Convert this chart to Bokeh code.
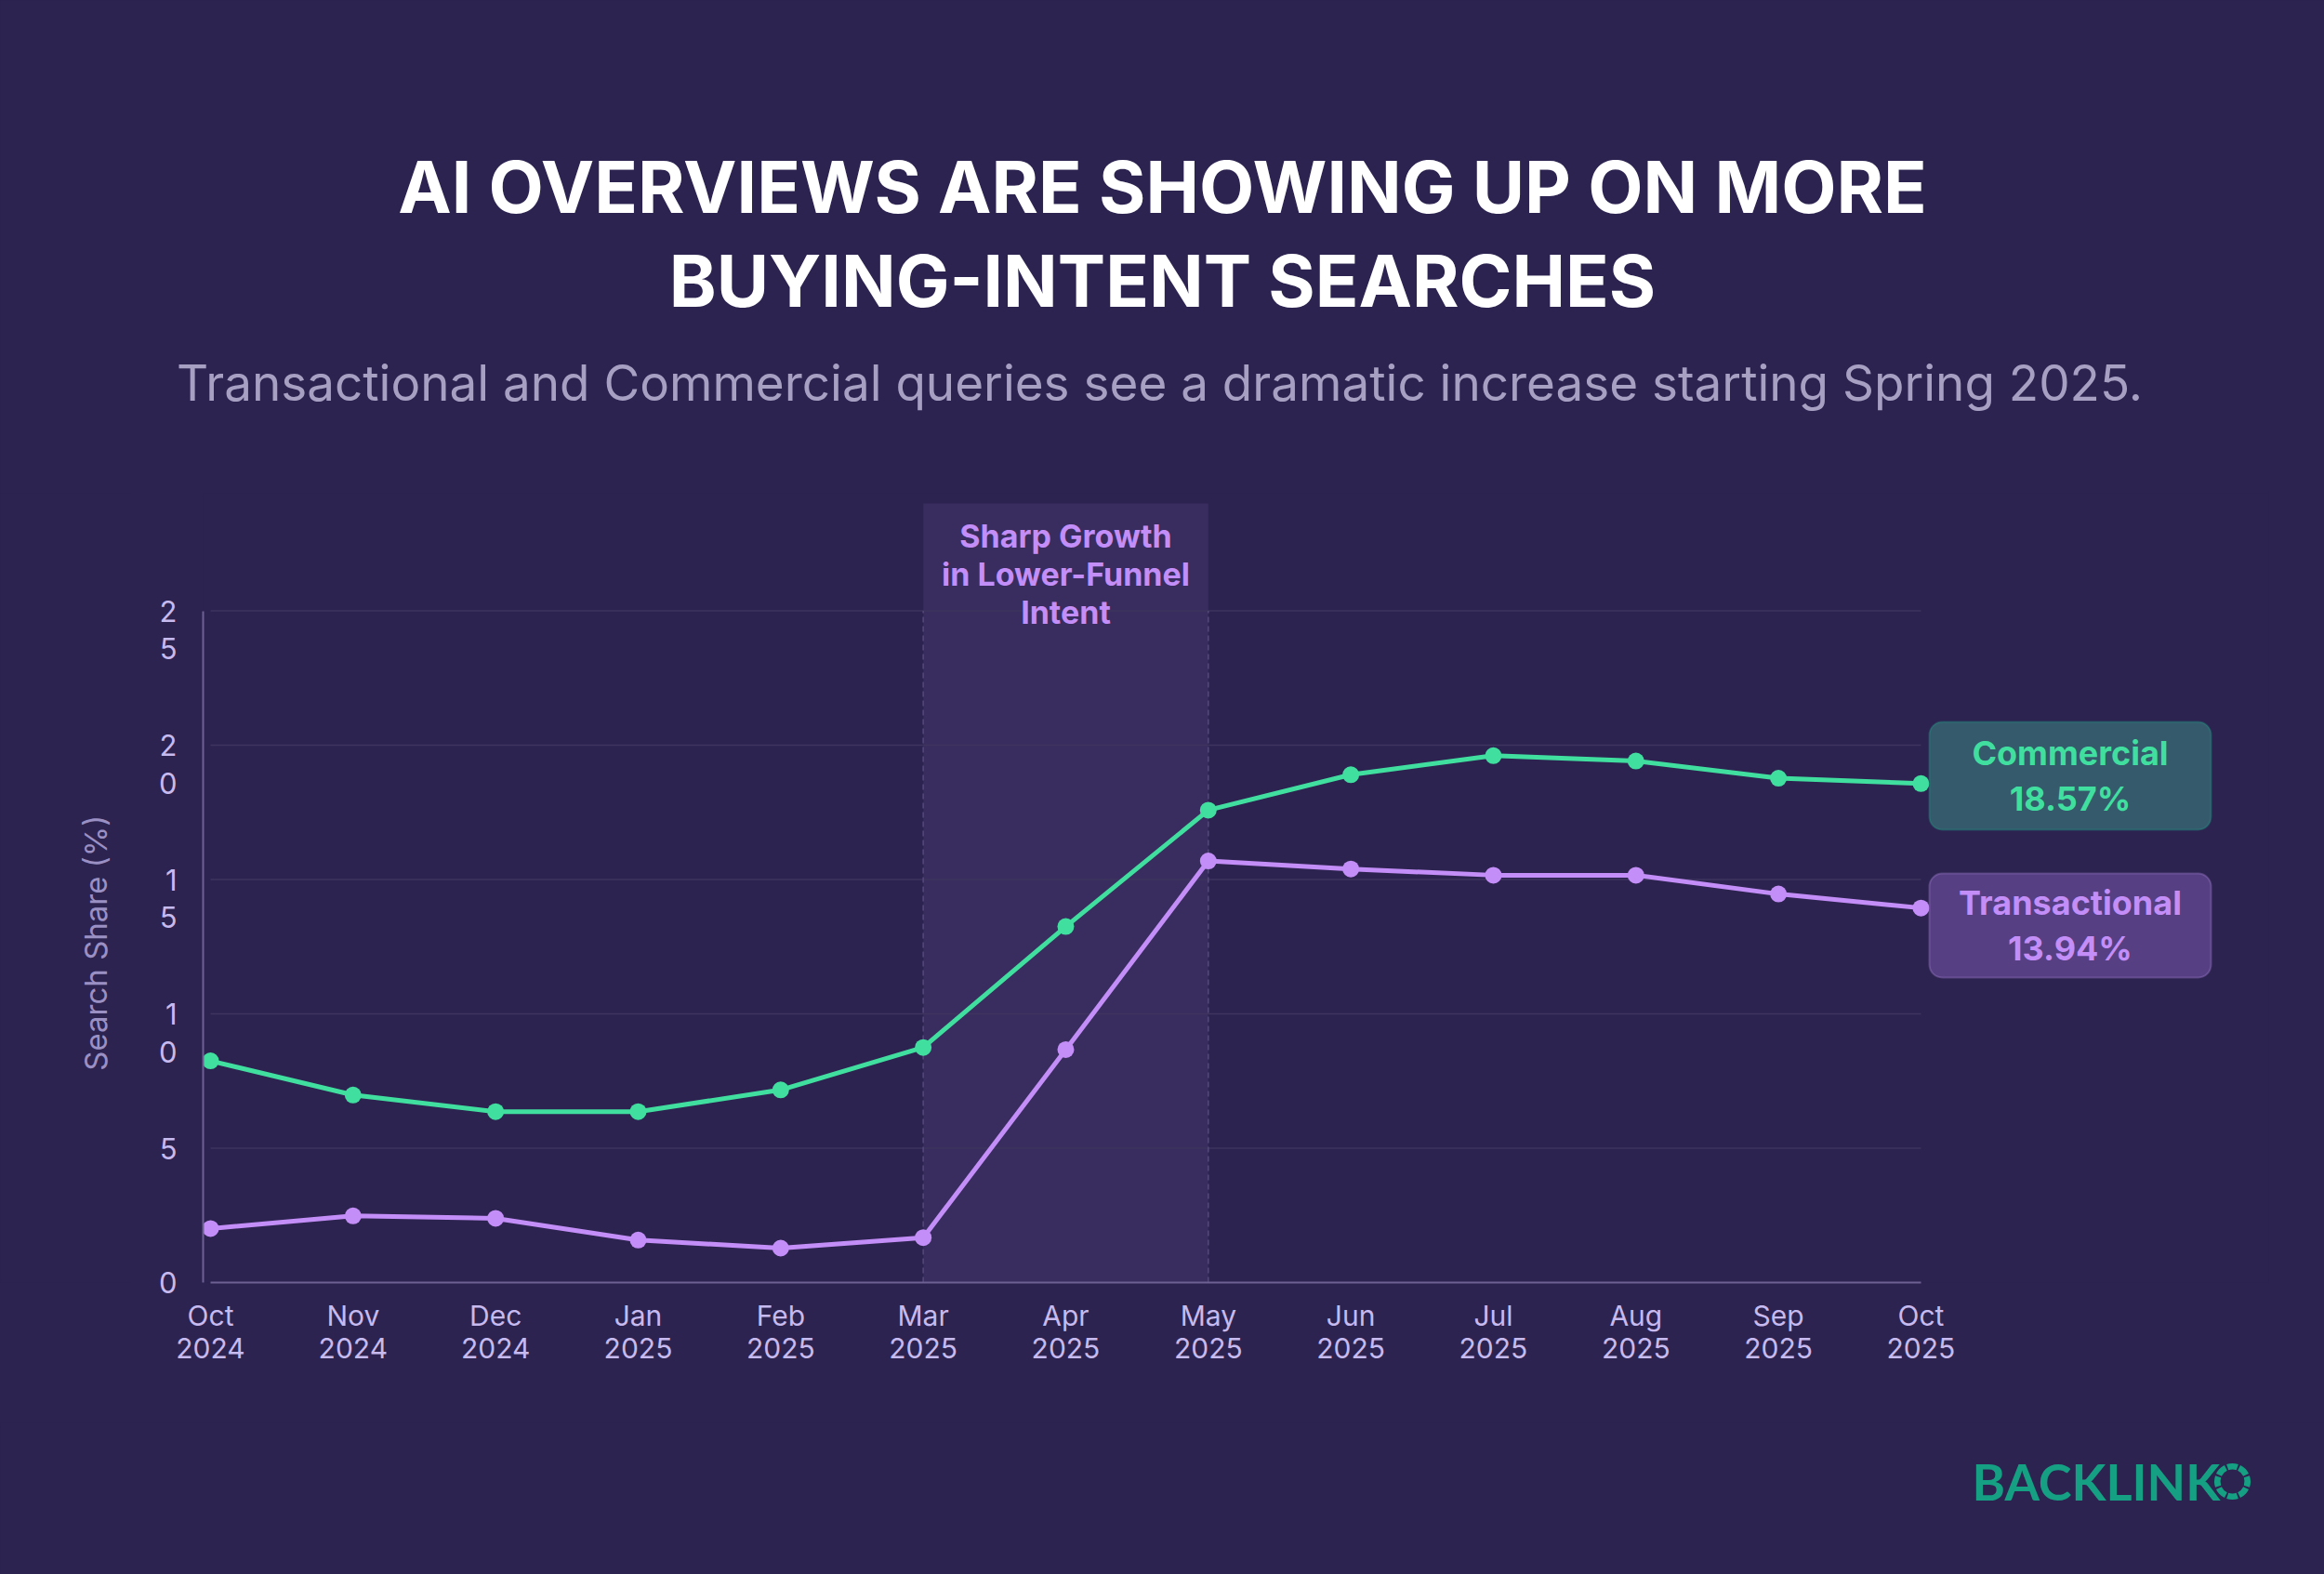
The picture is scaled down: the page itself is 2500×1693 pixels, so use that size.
import math

from bokeh.plotting import figure
from bokeh.layouts import column, row
from bokeh.models import Range1d, FixedTicker, BoxAnnotation, Label
from bokeh.embed import file_html
from bokeh.resources import INLINE

# ---- data -------------------------------------------------------------
months = ["Oct\n2024", "Nov\n2024", "Dec\n2024", "Jan\n2025", "Feb\n2025", "Mar\n2025",
          "Apr\n2025", "May\n2025", "Jun\n2025", "Jul\n2025", "Aug\n2025", "Sep\n2025", "Oct\n2025"]
commercial = [8.25, 6.98, 6.36, 6.36, 7.17, 8.75, 13.25, 17.58, 18.90, 19.61, 19.41, 18.77, 18.57]
transactional = [2.01, 2.48, 2.39, 1.58, 1.28, 1.67, 8.67, 15.69, 15.39, 15.16, 15.16, 14.46, 13.94]
y_ticks = [0, 5, 10, 15, 20, 25]
growth_start, growth_end = "Mar\n2025", "May\n2025"

# ---- styling ----------------------------------------------------------
BG = "#2d2350"
BAND = "#392c5e"
GRID = "#3e345f"
AXIS = "#6c6192"
TICK_TXT = "#c6baef"
AXIS_TXT = "#9b90c4"
GREEN = "#41df9f"
PURPLE = "#c38ef7"
LOGO = "#15a083"
FONT = "Inter"

W, H = 2500, 1693
HEAD_H = 530            # header strip (title + subtitle)
FOOT_H = 163            # footer strip (brand mark)
BODY_H = H - HEAD_H - FOOT_H
LABEL_W = 140           # strip holding the y-axis title
FRAME_L, FRAME_R = 218, 2440
FRAME_B = 1379
PX_PER_X = 153.33
PX_PER_Y = 28.9
X0 = -(226 - FRAME_L) / PX_PER_X
X1 = X0 + (FRAME_R - FRAME_L) / PX_PER_X
Y1 = (FRAME_B - HEAD_H) / PX_PER_Y


def mx(px):
    """page column -> chart x"""
    return X0 + (px - FRAME_L) / PX_PER_X


def my(py):
    """page row -> chart y"""
    return (FRAME_B - py) / PX_PER_Y


def panel(width, height):
    f = figure(width=width, height=height, x_range=Range1d(0, width), y_range=Range1d(0, height),
               x_axis_type=None, y_axis_type=None, output_backend="svg", toolbar_location=None,
               min_border=0, background_fill_color=BG, border_fill_color=None,
               outline_line_color=None)
    f.styles = {"background-color": BG}
    return f


def stacked(t):
    # two-digit ticks are set one digit per line, leading blank line keeps
    # the first digit level with its tick
    s = str(t)
    return s if len(s) == 1 else "\n" + "\n".join(s)


xs = list(range(len(months)))
last = len(months) - 1
y_top = y_ticks[-1]

# ---- main chart ---------------------------------------------------------
p = figure(width=W - LABEL_W, height=BODY_H, x_range=Range1d(X0, X1), y_range=Range1d(0, Y1),
           output_backend="svg", toolbar_location=None,
           min_border_left=FRAME_L - LABEL_W, min_border_right=W - FRAME_R,
           min_border_top=0, min_border_bottom=HEAD_H + BODY_H - FRAME_B,
           background_fill_color=BG, border_fill_color=None, outline_line_color=None)
p.styles = {"background-color": BG}
p.xgrid.visible = False
p.ygrid.visible = False

# highlighted growth window
g0, g1 = months.index(growth_start), months.index(growth_end)
p.add_layout(BoxAnnotation(left=g0, right=g1, bottom=0, top=my(541),
                           fill_color=BAND, fill_alpha=1, line_color=None, level="underlay"))

# horizontal gridlines limited to the data span
grid_vals = [t for t in y_ticks if t > 0]
p.segment(x0=[0] * len(grid_vals), x1=[last] * len(grid_vals), y0=grid_vals, y1=grid_vals,
          line_color=GRID, line_width=1.5)
p.segment(x0=[g0, g1], x1=[g0, g1], y0=[0, 0], y1=[y_top, y_top],
          line_color="#55497c", line_width=1.5, line_dash="6 4")

p.add_layout(Label(x=(g0 + g1) / 2, y=my(617), text="Sharp Growth\nin Lower-Funnel\nIntent",
                   text_align="center", text_baseline="middle", text_font=FONT,
                   text_font_style="bold", text_font_size="34px", text_line_height=1.01,
                   text_color=PURPLE))

# series
for series, color in ((commercial, GREEN), (transactional, PURPLE)):
    p.line(xs, series, line_color=color, line_width=5)
    p.scatter(xs, series, size=18, fill_color=color, line_color=None)

# end-of-series callouts
callouts = [
    ("Commercial", commercial, GREEN, "#345a6b", "#1fa98a", 776, 892),
    ("Transactional", transactional, PURPLE, "#563f82", "#b48de6", 939, 1051),
]
box_l, box_r = mx(2075), mx(2378)
for name, series, txt_col, fill, edge, top_px, bot_px in callouts:
    p.add_layout(BoxAnnotation(left=box_l, right=box_r, top=my(top_px), bottom=my(bot_px),
                               fill_color=fill, fill_alpha=1, line_color=edge, line_width=2,
                               border_radius=14))
    p.add_layout(Label(x=(box_l + box_r) / 2, y=my((top_px + bot_px) / 2),
                       text=f"{name}\n{series[-1]:.2f}%", text_align="center",
                       text_baseline="middle", text_font=FONT, text_font_style="bold",
                       text_font_size="36px", text_line_height=1.1, text_color=txt_col))

# axes
xa = p.xaxis[0]
xa.ticker = FixedTicker(ticks=xs)
xa.major_label_overrides = {i: m for i, m in enumerate(months)}
xa.bounds = (0, last)
xa.axis_line_color = AXIS
xa.axis_line_width = 2
xa.major_tick_line_color = None
xa.minor_tick_line_color = None
xa.major_tick_out = 0
xa.major_label_standoff = 17
xa.major_label_text_font = FONT
xa.major_label_text_font_size = "30px"
xa.major_label_text_color = TICK_TXT
xa.major_label_text_line_height = 0.99

ya = p.yaxis[0]
ya.ticker = FixedTicker(ticks=y_ticks)
ya.major_label_overrides = {t: stacked(t) for t in y_ticks}
ya.bounds = (0, y_top)
ya.axis_line_color = AXIS
ya.axis_line_width = 2
ya.major_tick_line_color = None
ya.minor_tick_line_color = None
ya.major_tick_out = 0
ya.major_label_standoff = 28
ya.major_label_text_font = FONT
ya.major_label_text_font_size = "31px"
ya.major_label_text_color = TICK_TXT
ya.major_label_text_line_height = 1.1

# y-axis title, centred on the 0..25 span of the axis
side = panel(LABEL_W, BODY_H)
axis_mid = FRAME_B - y_top / 2 * PX_PER_Y
side.add_layout(Label(x=102, y=HEAD_H + BODY_H - axis_mid - 82, text="Search Share (%)",
                      angle=math.pi / 2, text_align="center", text_baseline="middle",
                      text_font=FONT, text_font_size="33px", text_color=AXIS_TXT))

# ---- header -------------------------------------------------------------
head = panel(W, HEAD_H)
head.add_layout(Label(x=W / 2, y=HEAD_H - 251,
                      text="AI OVERVIEWS ARE SHOWING UP ON MORE\nBUYING-INTENT SEARCHES",
                      text_align="center", text_baseline="middle", text_font=FONT,
                      text_font_style="bold", text_font_size="77px", text_line_height=1.07,
                      text_color="#ffffff"))
head.add_layout(Label(x=W / 2 - 3, y=HEAD_H - 411,
                      text="Transactional and Commercial queries see a dramatic increase starting Spring 2025.",
                      text_align="center", text_baseline="middle", text_font=FONT,
                      text_font_size="53px", text_color="#a7a0c3"))

# ---- footer: brand mark -------------------------------------------------
foot = panel(W, FOOT_H)
logo_y = H - 1593
foot.add_layout(Label(x=2121, y=logo_y, text="BACKLINK", text_align="left",
                      text_baseline="middle", text_font="Lato", text_font_style="bold",
                      text_font_size="54px", text_color=LOGO))
seg_start = [math.radians(k * 45 + 26) for k in range(8)]
seg_end = [math.radians(k * 45 + 64) for k in range(8)]
foot.annular_wedge(x=[2401] * 8, y=[logo_y] * 8, inner_radius=13, outer_radius=19.5,
                   start_angle=seg_start, end_angle=seg_end,
                   fill_color=LOGO, line_color=None)

layout = column(head, row(side, p, spacing=0), foot, spacing=0)
layout.styles = {"background-color": BG}

open("out.html", "w").write(file_html(layout, INLINE))
